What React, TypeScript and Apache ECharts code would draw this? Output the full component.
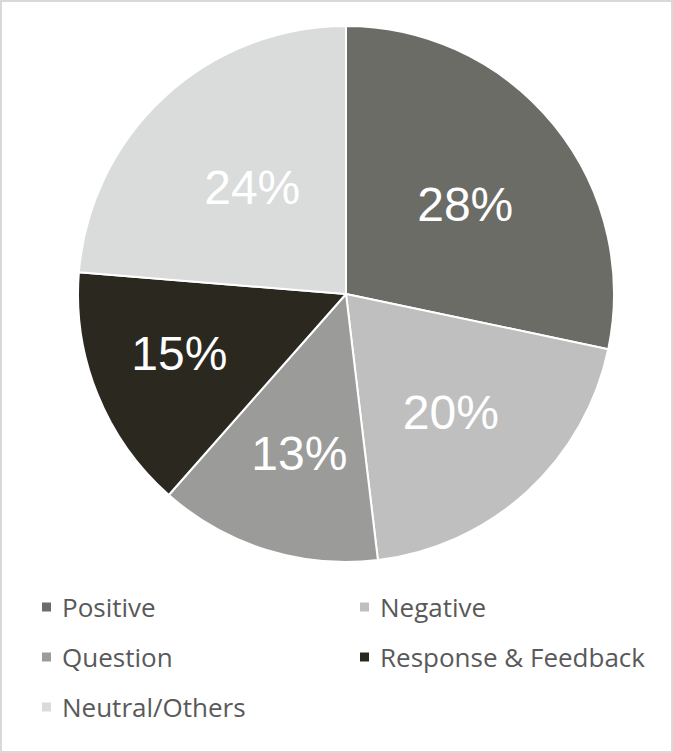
import React, { useEffect, useRef } from "react";
import * as echarts from "echarts";

const categories = ["Positive", "Negative", "Question", "Response & Feedback", "Neutral/Others"];
const values = [28.3, 19.8, 13.4, 14.8, 23.7];
const colors = ["#6b6c66", "#bfbfbf", "#9b9b99", "#2b2820", "#dadbdb"];
// label placement (Excel best-fit look): distance from centre as fraction of radius, angle nudge in degrees
const labelRadiusFrac = [0.546, 0.578, 0.61, 0.649, 0.517];
const labelAngleNudge = [2.1, 0.9, -1.0, 2.4, 1.2];
// legend layout: [column, row]
const legendSlots = [[0, 0], [1, 0], [0, 1], [1, 1], [0, 2]];

export default function App() {
  const ref = useRef<HTMLDivElement>(null);
  useEffect(() => {
    if (!ref.current) return;
    const chart = echarts.init(ref.current, null, { renderer: "svg" });
    const R = 268;
    const total = values.reduce((a, b) => a + b, 0);
    let cum = 0;
    const data = values.map((v, i) => {
      const mid = ((cum + v / 2) / total) * Math.PI * 2;
      cum += v;
      const ang = mid + (labelAngleNudge[i] * Math.PI) / 180;
      const r = labelRadiusFrac[i] * R;
      const base = 0.5 * R;
      const dx = r * Math.sin(ang) - base * Math.sin(mid);
      const dy = -r * Math.cos(ang) + base * Math.cos(mid);
      return {
        name: categories[i],
        value: v,
        itemStyle: { color: colors[i] },
        label: { offset: [dx, dy] },
      };
    });
    const legends = categories.map((name, i) => ({
      data: [name],
      left: 42 + legendSlots[i][0] * 318,
      top: 588 + legendSlots[i][1] * 50,
      padding: 0,
      itemWidth: 9,
      itemHeight: 9,
      icon: "rect",
      itemStyle: { borderWidth: 0 },
      selectedMode: false,
      textStyle: {
        color: "#595959",
        fontSize: 26,
        fontFamily: "Open Sans",
        lineHeight: 30,
        padding: [8, 0, 0, 6],
      },
    }));
    chart.setOption({
      animation: false,
      backgroundColor: "#ffffff",
      graphic: [
        {
          type: "rect",
          shape: { x: 1, y: 1, width: 671, height: 751 },
          style: { fill: "none", stroke: "#d9d9d9", lineWidth: 2 },
          silent: true,
        },
      ],
      legend: legends,
      series: [
        {
          type: "pie",
          center: [346, 294],
          radius: R,
          startAngle: 90,
          clockwise: true,
          percentPrecision: 0,
          data,
          itemStyle: { borderColor: "#ffffff", borderWidth: 2 },
          label: {
            show: true,
            position: "inside",
            formatter: "{d}%",
            color: "#ffffff",
            fontSize: 48,
            fontFamily: "Liberation Sans",
          },
          labelLine: { show: false },
          emphasis: { disabled: true },
        },
      ],
    });
    return () => chart.dispose();
  }, []);
  return (
    <div
      ref={ref}
      style={{ position: "absolute", left: 0, top: 0, width: 673, height: 753 }}
    />
  );
}
